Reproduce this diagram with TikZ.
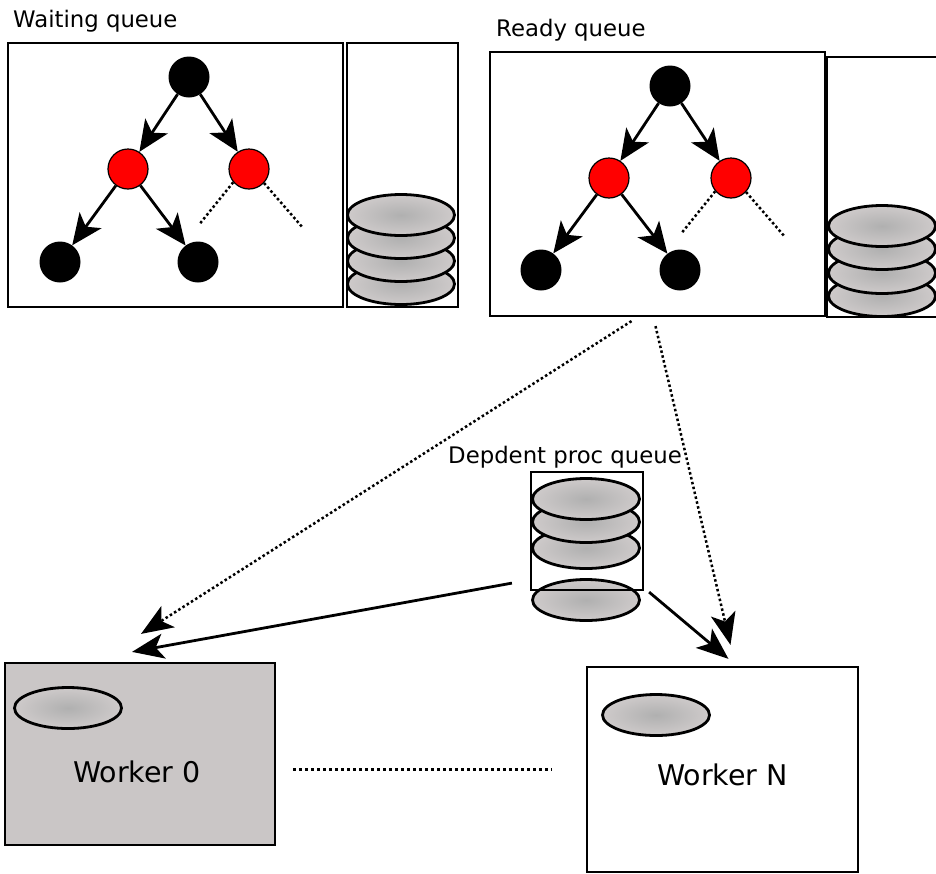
\documentclass[tikz,border=0pt]{standalone}
\usepackage{fontspec}
\setmainfont{DejaVu Sans}
\usepackage{tikz}
\usetikzlibrary{arrows.meta,shapes.geometric,calc}
\usepackage{xcolor}
\definecolor{wkgray}{RGB}{202,198,198}
\definecolor{diskin}{RGB}{176,176,176}
\definecolor{diskout}{RGB}{206,202,202}
\tikzset{
  queuebox/.style={rectangle, draw=black, line width=2.2pt, inner sep=0pt},
  blacknode/.style={circle, fill=black, minimum size=41pt, inner sep=0pt},
  rednode/.style={circle, fill=red, draw=black, line width=1.2pt, minimum size=40pt, inner sep=0pt},
  disk/.style={ellipse, draw=black, line width=2.8pt, minimum width=107pt, minimum height=41pt, inner sep=0pt, inner color=diskin, outer color=diskout},
  treearrow/.style={line width=2.8pt, -{Stealth[length=31pt,width=27pt,inset=8pt]}},
  bigarrow/.style={-{Stealth[length=32pt,width=25pt,inset=8pt]}},
  dots/.style={line width=2.5pt, dash pattern=on 2.5pt off 2.5pt},
  qlabel/.style={anchor=base west, inner sep=0pt, font=\fontsize{22.8}{27}\selectfont},
  wklabel/.style={anchor=base west, inner sep=0pt, font=\fontsize{28.5}{34}\selectfont}
}

\begin{document}
\begin{tikzpicture}[x=1pt, y=-1pt]
\useasboundingbox (0,0) rectangle (936,873);

% Waiting queue
\node[qlabel] (wqtext) at (13,27) {Waiting queue};
\node[queuebox, minimum width=335pt, minimum height=264pt] (wq) at (175.5,175) {};
\node[queuebox, minimum width=111pt, minimum height=264pt] (ws) at (402.5,175) {};

\node[blacknode] (wr) at (189,77) {};
\node[rednode] (wr1) at (128,169) {};
\node[rednode] (wr2) at (249,169) {};
\node[blacknode] (wb1) at (60,262) {};
\node[blacknode] (wb2) at (198,262) {};

\draw[treearrow] (wr) -- (wr1);
\draw[treearrow] (wr) -- (wr2);
\draw[treearrow] (wr1) -- (wb1);
\draw[treearrow] (wr1) -- (wb2);
\draw[dots] (wr2.-140) -- ++(-33,41);
\draw[dots] (wr2.-43) -- ++(39,45);

\foreach \y [count=\i] in {284,261,238,215}
  \node[disk] (wdisk\i) at (401,\y) {};

% Ready queue
\node[qlabel] (rqtext) at (496,36) {Ready queue};
\node[queuebox, minimum width=335pt, minimum height=264pt] (rq) at (657.5,184) {};
\node[queuebox, minimum width=111pt, minimum height=260pt] (rs) at (882.5,187) {};

\node[blacknode] (rr) at (670,86) {};
\node[rednode] (rr1) at (609,178) {};
\node[rednode] (rr2) at (731,178) {};
\node[blacknode] (rb1) at (541,270) {};
\node[blacknode] (rb2) at (680,270) {};

\draw[treearrow] (rr) -- (rr1);
\draw[treearrow] (rr) -- (rr2);
\draw[treearrow] (rr1) -- (rb1);
\draw[treearrow] (rr1) -- (rb2);
\draw[dots] (rr2.-140) -- ++(-33,41);
\draw[dots] (rr2.-43) -- ++(39,45);

\foreach \y [count=\i] in {296,273,249,226}
  \node[disk] (rdisk\i) at (882,\y) {};

% Dependent proc queue
\node[qlabel] (dqtext) at (448,463) {Depdent proc queue};
\node[disk] (ddisk0) at (586,600) {};
\node[queuebox, minimum width=112pt, minimum height=118pt] (dq) at (587,531) {};
\foreach \y [count=\i] in {548,522,499}
  \node[disk] (ddisk\i) at (586,\y) {};

% Workers
\node[queuebox, fill=wkgray, minimum width=270pt, minimum height=182pt] (w0) at (140,754) {};
\node[disk] (w0disk) at (68,708) {};
\node[wklabel] (w0text) at (73,782) {Worker 0};

\node[queuebox, minimum width=271pt, minimum height=205pt] (wN) at (722.5,769.5) {};
\node[disk] (wNdisk) at (656,715) {};
\node[wklabel] (wNtext) at (657,785) {Worker N};

\draw[line width=3pt, dash pattern=on 3pt off 3pt, shorten <=17pt, shorten >=34pt] (w0.east |- wN.west) -- (wN.west);

% Connections
\draw[dots, bigarrow] ($(rq.south)+(-26,4)$) -- ($(w0.north)+(1,-28)$);
\draw[dots, bigarrow] ($(rq.south)+(-2,9)$) -- ($(wN.north)+(8,-21)$);
\draw[line width=2.8pt, bigarrow] ($(dq.south west)+(-18,-8)$) -- ($(w0.north)+(-8,-10)$);
\draw[line width=2.8pt, bigarrow] ($(dq.south east)+(5,1)$) -- ($(wN.north)+(6,-7)$);
\end{tikzpicture}
\end{document}
